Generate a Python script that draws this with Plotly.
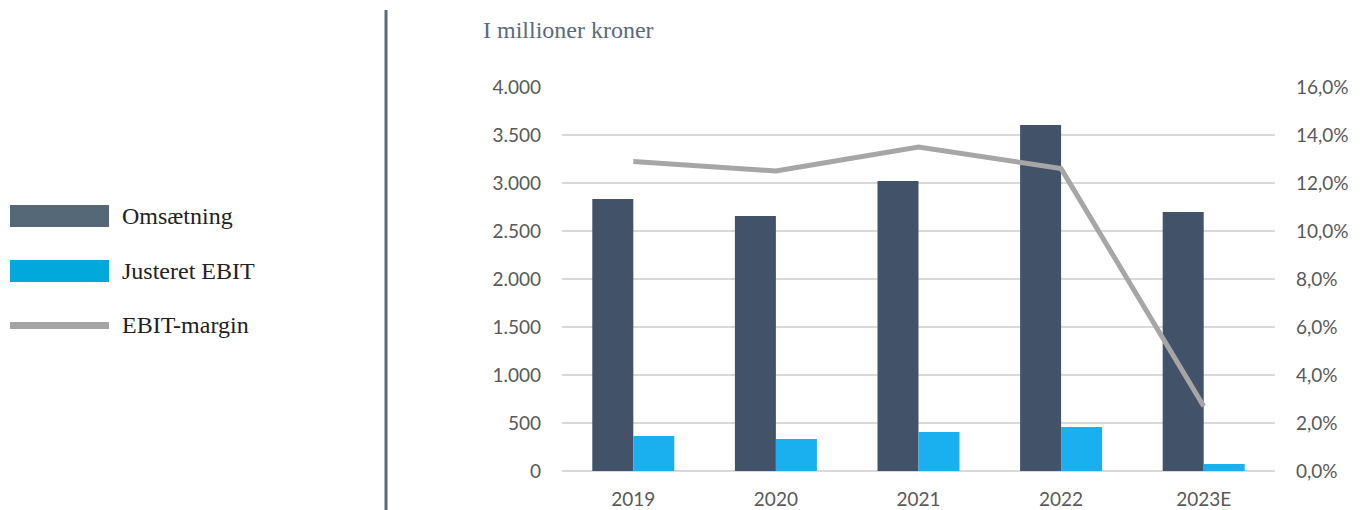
import plotly.graph_objects as go

years = ["2019", "2020", "2021", "2022", "2023E"]
omsaetning = [2833, 2656, 3021, 3604, 2698]
justeret_ebit = [365, 333, 406, 458, 73]
ebit_margin = [12.9, 12.5, 13.5, 12.6, 2.7]

left_ticks = [0, 500, 1000, 1500, 2000, 2500, 3000, 3500, 4000]
right_ticks = [0, 2, 4, 6, 8, 10, 12, 14, 16]
right_labels = ["0,0%", "2,0%", "4,0%", "6,0%", "8,0%", "10,0%", "12,0%", "14,0%", "16,0%"]

legend_names = ["Omsætning", "Justeret EBIT", "EBIT-margin"]

W, H = 1362, 510
PL, PR, PT, PB = 562, 1275, 87, 471
DARK = "#415269"
BLUE = "#1ab0f0"
GRAY = "#a6a6a6"
TXT = "#595959"
SERIF = "Liberation Serif, DejaVu Serif, serif"
SANS = "Lato, Open Sans, sans-serif"

fig = go.Figure()
fig.add_trace(go.Bar(x=years, y=omsaetning, name=legend_names[0], marker_color=DARK,
                     marker_line_width=0, showlegend=False))
fig.add_trace(go.Bar(x=years, y=justeret_ebit, name=legend_names[1], marker_color=BLUE,
                     marker_line_width=0, showlegend=False))
fig.add_trace(go.Scatter(x=years, y=ebit_margin, name=legend_names[2], yaxis="y2",
                         mode="lines", line=dict(color=GRAY, width=5), showlegend=False))

def px(x):
    return (x - PL) / (PR - PL)

def py(y):
    return (PB - y) / (PB - PT)

shapes = [
    dict(type="line", xref="paper", yref="paper", x0=px(386), x1=px(386), y0=py(10), y1=py(510),
         line=dict(color="#5a6b7b", width=3)),
    dict(type="rect", xref="paper", yref="paper", x0=px(10), x1=px(109), y0=py(227), y1=py(205),
         fillcolor="#546878", line_width=0),
    dict(type="rect", xref="paper", yref="paper", x0=px(10), x1=px(109), y0=py(282), y1=py(260),
         fillcolor="#00a8dc", line_width=0),
    dict(type="rect", xref="paper", yref="paper", x0=px(10), x1=px(109), y0=py(329), y1=py(322),
         fillcolor="#a5a5a5", line_width=0),
]

annotations = [
    dict(text="I millioner kroner", xref="paper", yref="paper", x=px(481), y=py(30),
         xanchor="left", yanchor="middle", showarrow=False,
         font=dict(family=SERIF, size=24, color="#5a6b7b")),
]
for name, yc in zip(legend_names, [216, 271, 325]):
    annotations.append(dict(text=name, xref="paper", yref="paper", x=px(120), y=py(yc),
                            xanchor="left", yanchor="middle", showarrow=False,
                            font=dict(family=SERIF, size=24, color="#222222")))

fig.update_layout(
    width=W, height=H,
    margin=dict(l=PL, r=W - PR, t=PT, b=H - PB),
    paper_bgcolor="white", plot_bgcolor="white",
    separators=",.",
    barmode="group", bargap=0.425, bargroupgap=0,
    xaxis=dict(tickfont=dict(family=SANS, size=19, color=TXT), showgrid=False,
               ticks="", ticklabelstandoff=15, showline=False, automargin=False),
    yaxis=dict(range=[0, 4000], tickvals=left_ticks, tickformat=",d", automargin=False,
               tickfont=dict(family=SANS, size=19, color=TXT),
               gridcolor="#d9d9d9", gridwidth=1.5, zeroline=True, zerolinecolor="#d9d9d9",
               zerolinewidth=1.5, showline=False, ticks="", ticklabelstandoff=20),
    yaxis2=dict(range=[0, 16], tickvals=right_ticks, ticktext=right_labels, automargin=False,
                overlaying="y", side="right", showgrid=False, zeroline=False,
                tickfont=dict(family=SANS, size=19, color=TXT), ticks="", ticklabelstandoff=20),
    shapes=shapes,
    annotations=annotations,
)

fig.write_html("out.html")
